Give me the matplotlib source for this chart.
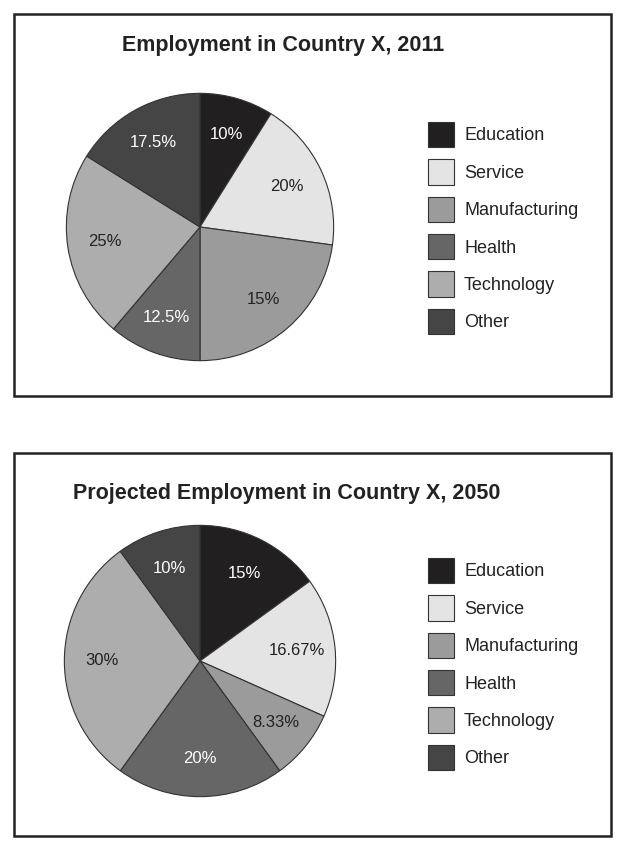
import matplotlib
matplotlib.use("Agg")
import matplotlib.pyplot as plt
from matplotlib.patches import Rectangle

plt.rcParams['font.family'] = ['Liberation Sans', 'DejaVu Sans']

categories = ["Education", "Service", "Manufacturing", "Health", "Technology", "Other"]
# 2011: printed labels, and wedge sizes as drawn in the source picture
labels_2011 = ["10%", "20%", "15%", "12.5%", "25%", "17.5%"]
drawn_2011 = [8.9, 18.25, 22.85, 11.2, 22.7, 16.1]
# 2050: printed labels and values (drawn proportionally)
labels_2050 = ["15%", "16.67%", "8.33%", "20%", "30%", "10%"]
values_2050 = [15, 16.67, 8.33, 20, 30, 10]
title_2011 = "Employment in Country X, 2011"
title_2050 = "Projected Employment in Country X, 2050"

colors = ["#221f20", "#e4e4e4", "#9b9b9b", "#666666", "#adadad", "#454545"]
text_colors = ["white", "#222222", "#222222", "white", "#222222", "white"]

W, H = 622, 852
fig = plt.figure(figsize=(W / 100, H / 100), dpi=100)
fig.patch.set_facecolor("white")


def px_axes(cx, cy, r):
    return fig.add_axes([(cx - r) / W, (H - cy - r) / H, 2 * r / W, 2 * r / H])


def panel(box, center, r, title, title_xy, values, labels, legend_cy):
    x0, y0, x1, y1 = box
    fig.patches.append(Rectangle((x0 / W, 1 - y1 / H), (x1 - x0) / W, (y1 - y0) / H,
                                 transform=fig.transFigure, fill=False,
                                 edgecolor="#222222", linewidth=1.8))
    fig.text(title_xy[0] / W, 1 - title_xy[1] / H, title, ha="center", va="center",
             fontsize=15.5, fontweight="bold", color="#222222")
    ax = px_axes(center[0], center[1], r)
    it = iter(labels)
    wedges, texts, autotexts = ax.pie(
        values, colors=colors, startangle=90, counterclock=False,
        autopct=lambda p: next(it), pctdistance=0.72,
        wedgeprops=dict(edgecolor="#333333", linewidth=0.8),
        textprops=dict(fontsize=12))
    for t, c in zip(autotexts, text_colors):
        t.set_color(c)
    ax.set_aspect("equal")
    ax.set_xlim(-1.01, 1.01)
    ax.set_ylim(-1.01, 1.01)
    ax.axis("off")
    fig.legend(wedges, categories, loc="center left",
               bbox_to_anchor=(428 / W, 1 - legend_cy / H),
               frameon=False, fontsize=13, handlelength=1.45, handleheight=1.76,
               handletextpad=0.55, labelspacing=0.68, borderpad=0, borderaxespad=0,
               labelcolor="#222222")


panel((14, 14, 611, 396), (200, 227), 135, title_2011, (283, 45),
      drawn_2011, labels_2011, 228)
panel((14, 453, 611, 836), (200, 661), 137, title_2050, (287, 493),
      values_2050, labels_2050, 664)

fig.savefig("out.png", dpi=100, facecolor="white")
